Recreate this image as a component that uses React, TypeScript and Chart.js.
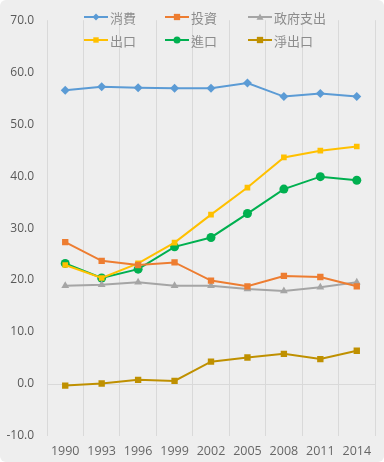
import React, { useEffect, useRef } from 'react';
import { Chart, registerables } from 'chart.js';

Chart.register(...registerables);

const years = ['1990', '1993', '1996', '1999', '2002', '2005', '2008', '2011', '2014'];
const consumption = [56.5, 57.2, 57.0, 56.9, 56.9, 57.9, 55.3, 55.9, 55.3];
const investment = [27.3, 23.7, 22.9, 23.4, 19.9, 18.8, 20.8, 20.6, 18.8];
const government = [18.9, 19.1, 19.6, 18.9, 18.9, 18.3, 17.9, 18.6, 19.6];
const exportsData = [22.9, 20.4, 23.2, 27.2, 32.6, 37.8, 43.6, 44.9, 45.7];
const importsData = [23.2, 20.4, 22.1, 26.4, 28.2, 32.8, 37.5, 39.9, 39.2];
const netExports = [-0.3, 0.1, 0.8, 0.6, 4.3, 5.1, 5.8, 4.8, 6.4];

const seriesNames = ['消費', '投資', '政府支出', '出口', '進口', '淨出口'];
const yMin = -10;
const yMax = 70;

type Marker = 'rectRot' | 'rect' | 'triangle' | 'circle';

const styles: { color: string; marker: Marker; radius: number }[] = [
  { color: '#5B9BD5', marker: 'rectRot', radius: 4.5 },
  { color: '#ED7D31', marker: 'rect', radius: 4.5 },
  { color: '#A5A5A5', marker: 'triangle', radius: 4.5 },
  { color: '#FFC000', marker: 'rect', radius: 4 },
  { color: '#00B050', marker: 'circle', radius: 4.5 },
  { color: '#BF9000', marker: 'rect', radius: 4.5 },
];

const dataArrays = [consumption, investment, government, exportsData, importsData, netExports];

function drawMarker(ctx: CanvasRenderingContext2D, m: Marker, x: number, y: number, r: number, color: string) {
  ctx.save();
  ctx.fillStyle = color;
  ctx.beginPath();
  if (m === 'circle') {
    ctx.arc(x, y, r, 0, Math.PI * 2);
  } else if (m === 'rect') {
    const s = r * 0.9;
    ctx.rect(x - s, y - s, s * 2, s * 2);
  } else if (m === 'rectRot') {
    ctx.moveTo(x, y - r);
    ctx.lineTo(x + r, y);
    ctx.lineTo(x, y + r);
    ctx.lineTo(x - r, y);
    ctx.closePath();
  } else {
    ctx.moveTo(x, y - r);
    ctx.lineTo(x + r, y + r * 0.75);
    ctx.lineTo(x - r, y + r * 0.75);
    ctx.closePath();
  }
  ctx.fill();
  ctx.restore();
}

const legendPlugin = {
  id: 'customLegend',
  afterDraw(chart: any) {
    const ctx: CanvasRenderingContext2D = chart.ctx;
    const cols = [84, 165, 248];
    const rows = [17, 40];
    ctx.save();
    ctx.font = '13px "Noto Sans CJK TC", "Noto Sans", sans-serif';
    ctx.textBaseline = 'middle';
    ctx.textAlign = 'left';
    seriesNames.forEach((name, i) => {
      const x = cols[i % 3];
      const y = rows[Math.floor(i / 3)];
      const st = styles[i];
      ctx.strokeStyle = st.color;
      ctx.lineWidth = 2;
      ctx.beginPath();
      ctx.moveTo(x, y);
      ctx.lineTo(x + 24, y);
      ctx.stroke();
      drawMarker(ctx, st.marker, x + 12, y, st.radius - 1, st.color);
      ctx.fillStyle = '#8C8C8C';
      ctx.fillText(name, x + 26, y + 1);
    });
    ctx.restore();
  },
};

export default function App() {
  const ref = useRef<HTMLCanvasElement | null>(null);

  useEffect(() => {
    if (!ref.current) return;
    const chart = new Chart(ref.current, {
      type: 'line',
      data: {
        labels: years,
        datasets: seriesNames.map((name, i) => ({
          label: name,
          data: dataArrays[i],
          borderColor: styles[i].color,
          backgroundColor: styles[i].color,
          borderWidth: 2,
          pointStyle: styles[i].marker,
          pointRadius: styles[i].radius,
          pointBorderWidth: 0,
          pointBackgroundColor: styles[i].color,
          tension: 0,
          fill: false,
        })),
      },
      options: {
        responsive: false,
        animation: false,
        layout: { padding: { top: 12, right: 9, left: 0, bottom: 0 } },
        plugins: {
          legend: { display: false },
          tooltip: { enabled: false },
        },
        scales: {
          x: {
            type: 'category',
            offset: true,
            grid: {
              offset: true,
              color: '#D9D9D9',
              lineWidth: 1,
              drawTicks: false,
            },
            border: { display: false },
            ticks: {
              color: '#666666',
              font: { family: '"Open Sans", sans-serif', size: 12.5 },
              padding: 8,
              maxRotation: 0,
              autoSkip: false,
            },
            afterFit(scale: any) {
              scale.height = 26;
            },
          },
          y: {
            min: yMin,
            max: yMax,
            ticks: {
              stepSize: 10,
              color: '#595959',
              font: { family: '"Open Sans", sans-serif', size: 12 },
              padding: 13,
              callback: (v: any) => Number(v).toFixed(1),
            },
            grid: {
              drawTicks: false,
              color: (c: any) => (c.tick && c.tick.value === 0 ? '#D9D9D9' : 'rgba(0,0,0,0)'),
            },
            border: { display: false },
            afterFit(scale: any) {
              scale.width = 47;
            },
          },
        },
      },
      plugins: [legendPlugin],
    });
    return () => chart.destroy();
  }, []);

  return (
    <div
      style={{
        position: 'absolute',
        left: 0,
        top: 0,
        width: 384,
        height: 462,
        background: '#EEEEEE',
        borderRadius: 6,
        overflow: 'hidden',
      }}
    >
      <canvas ref={ref} width={384} height={462} style={{ display: 'block' }} />
    </div>
  );
}
